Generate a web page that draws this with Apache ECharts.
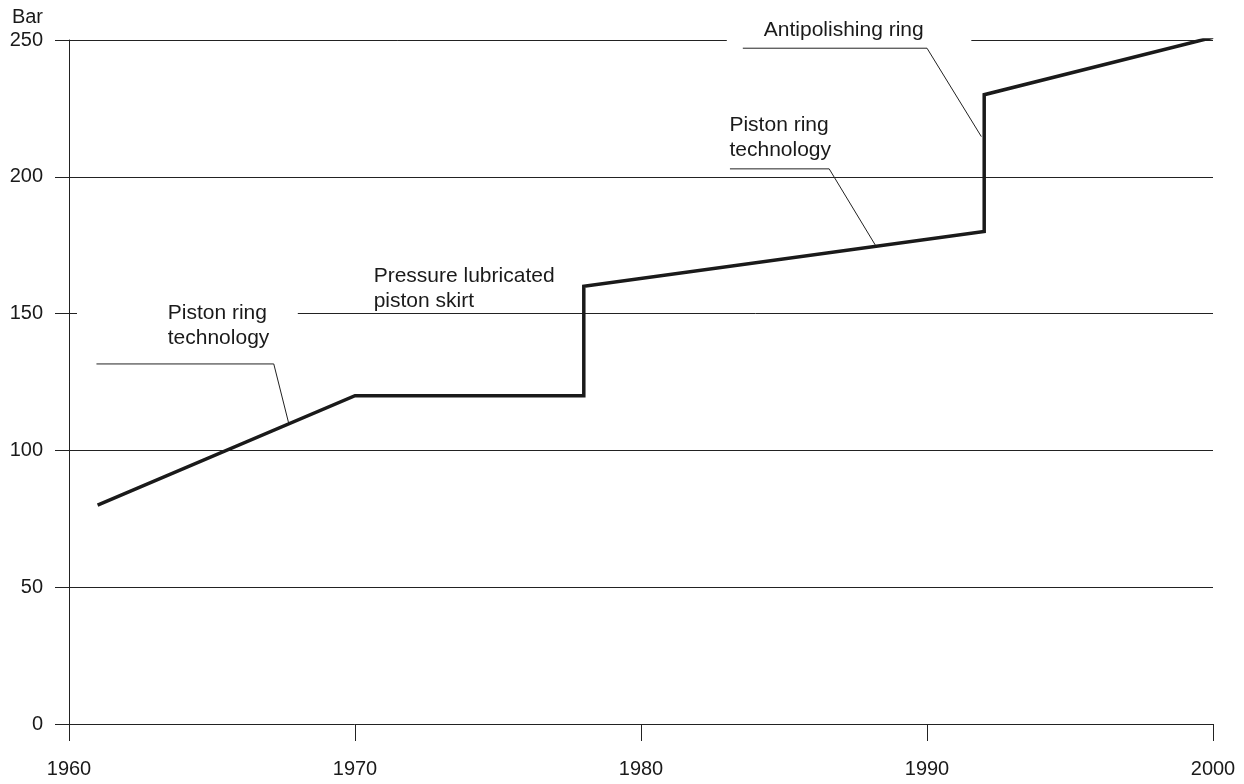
<!DOCTYPE html>
<html>
<head>
<meta charset="utf-8">
<script src="https://cdn.jsdelivr.net/npm/echarts@6/dist/echarts.min.js"></script>
<style>
html,body{margin:0;padding:0;background:#fff;}
#chart{width:1244px;height:784px;}
</style>
</head>
<body>
<div id="chart"></div>
<script>
// ---- data ----
var pressureData = [[1961, 80], [1970, 120], [1978, 120], [1978, 160], [1992, 180], [1992, 230], [2000, 251]];
var xTicks = [1960, 1970, 1980, 1990, 2000];
var yTicks = [0, 50, 100, 150, 200, 250];
// horizontal reference lines: [fromYear, toYear, value]
var gridSegments = [
  [1960, 2000, 50],
  [1960, 2000, 100],
  [1960, 1960.28, 150],
  [1968, 2000, 150],
  [1960, 2000, 200],
  [1960, 1983, 250],
  [1991.55, 2000, 250]
];
// annotation leader lines
var leaderLeft = [[1960.96, 131.6], [1967.16, 131.6], [1967.68, 110]];
var leaderRight = [[1983.11, 202.9], [1986.58, 202.9], [1988.19, 175.1]];
var leaderTop = [[1983.56, 247], [1990, 247], [1991.9, 214.7]];
// annotation texts: [year, value, text]
var notes = [
  [1963.47, 154.4, 'Piston ring\ntechnology'],
  [1970.67, 168.0, 'Pressure lubricated\npiston skirt'],
  [1983.11, 223.2, 'Piston ring\ntechnology'],
  [1984.31, 257.8, 'Antipolishing ring']
];

var FONT = "'Liberation Sans', Arial, Helvetica, sans-serif";
var TXT = '#1a1a1a';
var LINE = '#222';

var chart = echarts.init(document.getElementById('chart'));

var markData = gridSegments.map(function (s) {
  return [{ coord: [s[0], s[2]] }, { coord: [s[1], s[2]] }];
});

function leader(d) {
  return {
    type: 'line', data: d, symbol: 'none', silent: true, z: 3,
    lineStyle: { color: LINE, width: 1 }, animation: false
  };
}

chart.setOption({
  animation: false,
  backgroundColor: '#fff',
  grid: { left: 69, right: 31, top: 40, bottom: 60, containLabel: false },
  xAxis: {
    type: 'value', min: 1960, max: 2000, interval: 10,
    axisLine: { show: true, lineStyle: { color: LINE, width: 1 } },
    axisTick: { show: true, length: 17, lineStyle: { color: LINE, width: 1 } },
    axisLabel: { color: TXT, fontSize: 20, fontFamily: FONT, margin: 35, formatter: function (v) { return String(v); } },
    splitLine: { show: false }
  },
  yAxis: {
    type: 'value', min: 0, max: 250, interval: 50,
    name: 'Bar', nameLocation: 'end', nameGap: 13,
    nameTextStyle: { color: TXT, fontSize: 20, fontFamily: FONT, align: 'right', verticalAlign: 'bottom', padding: [0, 26, 0, 0] },
    axisLine: { show: true, lineStyle: { color: LINE, width: 1 } },
    axisTick: { show: true, length: 14, lineStyle: { color: LINE, width: 1 } },
    axisLabel: { color: TXT, fontSize: 20, fontFamily: FONT, margin: 26 },
    splitLine: { show: false }
  },
  series: [
    {
      type: 'line', data: [], symbol: 'none', silent: true,
      markLine: {
        silent: true, symbol: ['none', 'none'], label: { show: false },
        lineStyle: { color: LINE, width: 1, type: 'solid' },
        emphasis: { disabled: true },
        data: markData, animation: false
      }
    },
    leader(leaderLeft),
    leader(leaderRight),
    leader(leaderTop),
    {
      type: 'line', data: pressureData, symbol: 'none', z: 5, silent: true,
      lineStyle: { color: '#1a1a1a', width: 3.5, join: 'miter', cap: 'butt' }
    },
    {
      type: 'scatter', clip: false, symbolSize: 1, silent: true,
      itemStyle: { color: 'rgba(0,0,0,0)' },
      data: notes.map(function (n) { return { value: [n[0], n[1]], name: n[2] }; }),
      label: {
        show: true, position: [0, 0], align: 'left', verticalAlign: 'top',
        formatter: function (p) { return p.name; },
        color: TXT, opacity: 1, textBorderWidth: 0, textBorderColor: 'transparent',
        fontSize: 21, fontFamily: FONT, lineHeight: 25
      },
      emphasis: { disabled: true },
      z: 6
    }
  ]
});
</script>
</body>
</html>
